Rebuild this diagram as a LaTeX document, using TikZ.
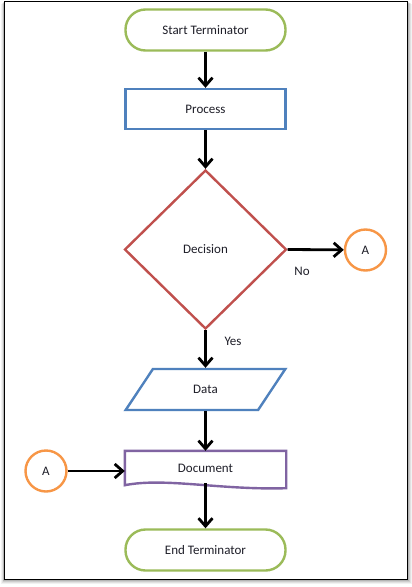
\documentclass[tikz,border=0pt]{standalone}
\usepackage{fontspec}
\setmainfont{Carlito}
\usetikzlibrary{shapes.geometric,arrows.meta}
\definecolor{termgreen}{RGB}{155,187,89}
\definecolor{procblue}{RGB}{79,129,189}
\definecolor{decred}{RGB}{192,80,77}
\definecolor{conorange}{RGB}{247,150,70}
\definecolor{docpurple}{RGB}{128,100,162}
\definecolor{inktext}{RGB}{30,30,40}
\tikzset{
  every node/.style={font=\fontsize{13}{15}\selectfont, text=inktext},
  terminal/.style={draw=termgreen, line width=2.4pt, rounded corners=20pt,
    minimum width=160pt, minimum height=41pt, inner sep=0pt},
  procbox/.style={draw=procblue, line width=2.4pt, minimum width=160pt,
    minimum height=40pt, inner sep=0pt},
  decbox/.style={draw=decred, line width=2.4pt, diamond, aspect=1,
    minimum width=162pt, minimum height=159pt, inner sep=0pt},
  databox/.style={draw=procblue, line width=2.4pt, trapezium,
    trapezium left angle=53, trapezium right angle=127, trapezium stretches,
    minimum width=160pt, minimum height=41pt, inner sep=0pt},
  docbox/.style={minimum width=161pt, minimum height=34pt, inner sep=0pt},
  connector/.style={draw=conorange, line width=2.4pt, circle,
    minimum size=41pt, inner sep=0pt},
  flow/.style={draw=black, line width=2.8pt,
    -{Straight Barb[length=8pt,width=14pt,line width=2.8pt]}},
}
\begin{document}
\begin{tikzpicture}[x=1pt,y=-1pt]
  \useasboundingbox (0,0) rectangle (412,587);
  % drop shadow behind the page frame
  \foreach \o/\op in {5/0.05,4/0.07,3/0.09,2/0.12,1/0.16}
    \fill[black,opacity=\op] (4.5-\o*0.6,1+\o*0.6) rectangle (407+\o,579+\o);
  \fill[white] (4.5,1) rectangle (407,579);
  \draw[black,line width=1pt] (4.5,1) rectangle (407,579);

  % flowchart shapes
  \node[terminal] (start) at (205.5,30) {Start Terminator};
  \node[procbox] (proc) at (205.5,109) {Process};
  \node[decbox] (dec) at (205.5,249.5) {Decision};
  \node[connector] (conR) at (365.5,250) {A};
  \node[databox] (data) at (205.5,389.5) {Data};
  \node[docbox] (doc) at (205.5,468) {Document};
  % document outline with a wavy lower edge
  \draw[docpurple,line width=2.4pt,line join=miter]
    (doc.south west) -- (doc.north west) -- (doc.north east)
    -- ([yshift=-3pt]doc.south east)
    .. controls ([xshift=-66pt,yshift=-5pt]doc.south east)
       and ([xshift=40pt,yshift=8pt]doc.south west)
    .. (doc.south west) -- cycle;
  \node[terminal] (end) at (205.5,550) {End Terminator};
  \node[connector] (conL) at (46,471) {A};

  % connectors
  \draw[flow] (start) -- (proc);
  \draw[flow] (proc) -- (dec.north);
  \draw[flow] (dec.east) -- (conR);
  \draw[flow] (dec.south) -- (data);
  \draw[flow] (data) -- (doc.north);
  \draw[flow] ([yshift=2pt]doc.south) -- (end);
  \draw[flow] (conL) -- (conL -| doc.west);

  % branch labels
  \node (no) at (302,271) {No};
  \node (yes) at (233,341) {Yes};
\end{tikzpicture}
\end{document}
